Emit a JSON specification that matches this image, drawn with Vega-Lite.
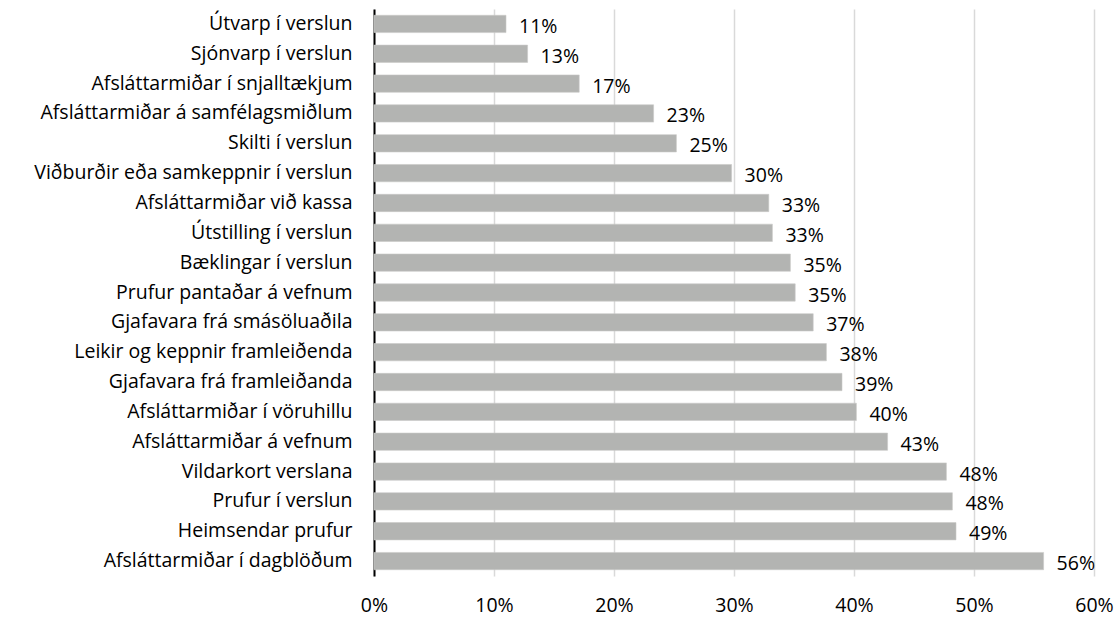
{
  "$schema": "https://vega.github.io/schema/vega-lite/v6.json",
  "autosize": {"type": "none"},
  "width": 720,
  "height": 567,
  "padding": {"left": 374, "top": 9, "right": 26, "bottom": 41},
  "background": "white",
  "config": {
    "view": {"stroke": null},
    "font": "Open Sans",
    "text": {"font": "Open Sans"}
  },
  "data": {
    "values": [
      {"flokkur": "Útvarp í verslun", "hlutfall": 0.110},
      {"flokkur": "Sjónvarp í verslun", "hlutfall": 0.128},
      {"flokkur": "Afsláttarmiðar í snjalltækjum", "hlutfall": 0.171},
      {"flokkur": "Afsláttarmiðar á samfélagsmiðlum", "hlutfall": 0.233},
      {"flokkur": "Skilti í verslun", "hlutfall": 0.252},
      {"flokkur": "Viðburðir eða samkeppnir í verslun", "hlutfall": 0.298},
      {"flokkur": "Afsláttarmiðar við kassa", "hlutfall": 0.329},
      {"flokkur": "Útstilling í verslun", "hlutfall": 0.332},
      {"flokkur": "Bæklingar í verslun", "hlutfall": 0.347},
      {"flokkur": "Prufur pantaðar á vefnum", "hlutfall": 0.351},
      {"flokkur": "Gjafavara frá smásöluaðila", "hlutfall": 0.366},
      {"flokkur": "Leikir og keppnir framleiðenda", "hlutfall": 0.377},
      {"flokkur": "Gjafavara frá framleiðanda", "hlutfall": 0.390},
      {"flokkur": "Afsláttarmiðar í vöruhillu", "hlutfall": 0.402},
      {"flokkur": "Afsláttarmiðar á vefnum", "hlutfall": 0.428},
      {"flokkur": "Vildarkort verslana", "hlutfall": 0.477},
      {"flokkur": "Prufur í verslun", "hlutfall": 0.482},
      {"flokkur": "Heimsendar prufur", "hlutfall": 0.485},
      {"flokkur": "Afsláttarmiðar í dagblöðum", "hlutfall": 0.558}
    ]
  },
  "encoding": {
    "y": {
      "field": "flokkur",
      "type": "nominal",
      "sort": null,
      "scale": {"paddingInner": 0.42, "paddingOuter": 0.21},
      "axis": {
        "title": null,
        "ticks": false,
        "domain": true,
        "domainColor": "#000000",
        "domainWidth": 2,
        "labelFont": "Open Sans",
        "labelFontSize": 19.5,
        "labelColor": "#000000",
        "labelPadding": 22,
        "labelLimit": 400,
        "grid": false
      }
    },
    "x": {
      "field": "hlutfall",
      "type": "quantitative",
      "scale": {"domain": [0, 0.6], "nice": false},
      "axis": {
        "title": null,
        "format": ".0%",
        "values": [0, 0.1, 0.2, 0.3, 0.4, 0.5, 0.6],
        "ticks": false,
        "domain": false,
        "grid": true,
        "gridColor": "#d9d9d9",
        "gridWidth": 1.5,
        "labelFont": "Open Sans",
        "labelFontSize": 19.5,
        "labelColor": "#000000",
        "labelPadding": 20,
        "labelFlush": false
      }
    }
  },
  "layer": [
    {
      "mark": {"type": "bar", "color": "#b3b4b2", "stroke": "#c9cac8", "strokeWidth": 0.6}
    },
    {
      "mark": {"type": "text", "align": "left", "baseline": "middle", "dx": 13, "dy": 3, "fontSize": 19.5, "color": "#000000", "font": "Open Sans"},
      "encoding": {
        "text": {"field": "hlutfall", "type": "quantitative", "format": ".0%"}
      }
    }
  ]
}
